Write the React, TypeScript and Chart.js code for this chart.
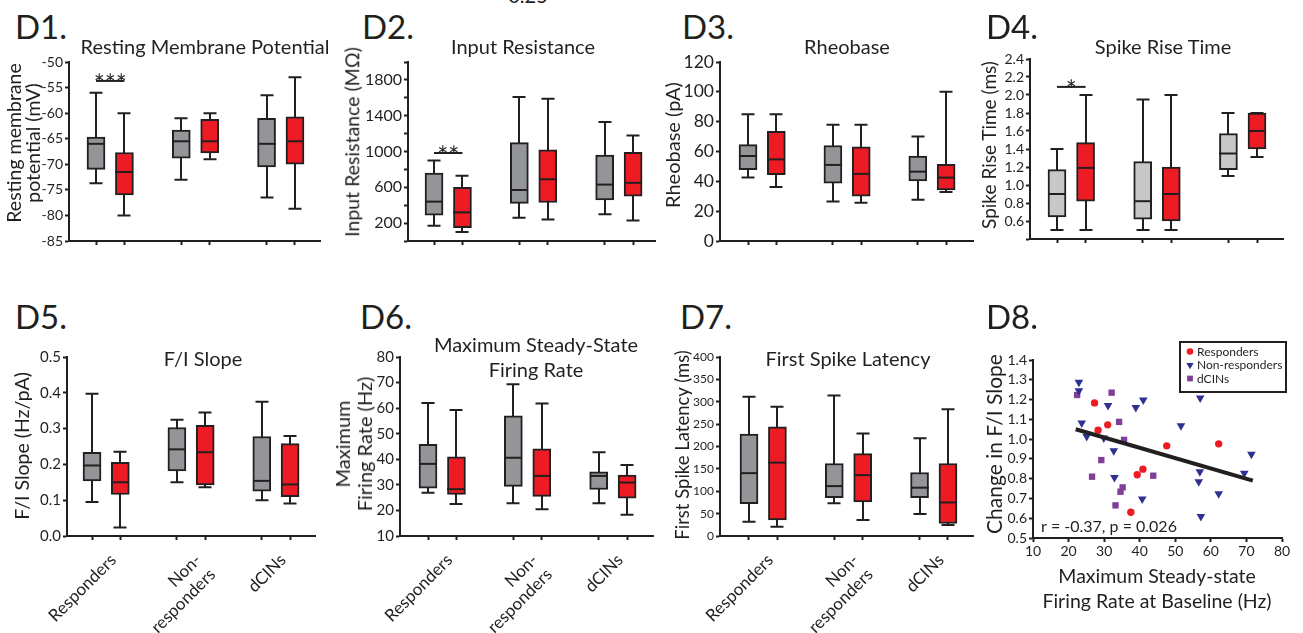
import React, { useEffect, useRef } from 'react';
import { Chart, registerables } from 'chart.js';

Chart.register(...registerables);

const FONT = 'Lato, "Open Sans", "DejaVu Sans", sans-serif';
const INK = '#231f20';
const RED = '#ed1c24';
const GRAY = '#939598';
const LIGHT_GRAY = '#c7c8ca';
const BLUE = '#2e3192';
const PURPLE = '#7f3f98';

Chart.defaults.font.family = FONT;
Chart.defaults.color = INK;

// ---------------- data ----------------
// box x positions (baseline = grey, post = red)
const baselinePos = [1, 4, 7];
const afterPos = [2, 5, 8];
const groupLabels: (string | string[])[] = ['Responders', ['Non-', 'responders'], 'dCINs'];

// each row: [min, q1, median, q3, max] for Responders, Non-responders, dCINs
const rmpBaseline = [[-73.7, -71, -66, -64.7, -56], [-73, -68.8, -65.5, -63.3, -61], [-76.5, -70.5, -66, -61, -56.5]];
const rmpAfter = [[-80, -76, -71.5, -67.7, -60], [-69, -67.8, -65.5, -61.2, -60], [-78.7, -70, -65.5, -60.7, -53]];
const irBaseline = [[170, 290, 440, 760, 900], [260, 420, 570, 1100, 1610], [300, 460, 630, 960, 1330]];
const irAfter = [[100, 150, 320, 600, 730], [240, 430, 690, 1020, 1590], [230, 500, 650, 990, 1180]];
const rheoBaseline = [[42.5, 47.8, 57, 64.6, 85], [26.4, 38.7, 51, 64, 78], [27.7, 40.2, 46.5, 57, 70]];
const rheoAfter = [[36.2, 44.5, 54.7, 73.5, 85], [25.7, 30, 45, 63.2, 78], [32.8, 34.2, 42.5, 51.4, 100]];
const riseBaseline = [[0.5, 0.645, 0.9, 1.17, 1.4], [0.5, 0.62, 0.82, 1.26, 1.95], [1.1, 1.17, 1.35, 1.57, 1.8]];
const riseAfter = [[0.5, 0.82, 1.19, 1.47, 2.0], [0.5, 0.6, 0.9, 1.2, 2.0], [1.31, 1.4, 1.6, 1.8, 1.8]];
const fiBaseline = [[0.095, 0.154, 0.197, 0.234, 0.397], [0.15, 0.182, 0.242, 0.303, 0.325], [0.1, 0.125, 0.154, 0.278, 0.375]];
const fiAfter = [[0.024, 0.116, 0.15, 0.206, 0.235], [0.136, 0.143, 0.234, 0.309, 0.345], [0.091, 0.11, 0.144, 0.258, 0.279]];
const maxfrBaseline = [[26.9, 28.7, 38.2, 45.8, 62], [22.8, 29.4, 40.6, 57, 69.3], [22.8, 28.2, 33.5, 35.1, 42.8]];
const maxfrAfter = [[22.5, 26.3, 28.3, 41, 59.3], [20.5, 25.5, 33.5, 44.1, 61.8], [18.3, 24.8, 30.9, 33.8, 37.8]];
const latBaseline = [[32, 72, 140.5, 227.5, 311], [73, 85.5, 111.5, 162, 314], [49, 85.5, 108, 142, 218.6]];
const latAfter = [[20.8, 35.7, 164, 244, 289], [35.7, 76, 136, 184, 229], [24.5, 28, 75, 162, 283]];

// significance bars
const rmpSig = { from: 1, to: 2, y: -53.7, mark: '***' };
const irSig = { from: 1, to: 2, y: 983, mark: '**' };
const riseSig = { from: 1, to: 2, y: 2.09, mark: '*' };

// D8 scatter
const respX = [27.3, 28.3, 31.0, 47.6, 62.2, 39.3, 40.9, 37.5];
const respY = [1.183, 1.045, 1.072, 0.966, 0.976, 0.82, 0.848, 0.63];
const nonX = [22.9, 22.9, 23.7, 25.1, 29.9, 31.1, 32.7, 32.9, 38.9, 41.0, 40.7, 51.6, 57.0, 56.9, 56.6, 57.2, 62.2, 69.4, 71.4];
const nonY = [1.287, 1.245, 1.082, 1.013, 1.006, 1.17, 0.941, 0.806, 1.16, 1.198, 0.697, 1.067, 1.208, 0.835, 0.784, 0.609, 0.724, 0.828, 0.924];
const dcinX = [22.4, 32.1, 34.2, 35.6, 29.2, 26.6, 34.6, 35.2, 33.2, 43.8];
const dcinY = [1.223, 1.235, 1.087, 0.996, 0.894, 0.81, 0.734, 0.756, 0.665, 0.815];
const fitX = [22, 71.8];
const fitY = [1.05, 0.79];
const corrNote = 'r = -0.37, p = 0.026';

// ---------------- plugins ----------------
const BOX_W = 18;
const CAP_W = 13;

const boxPlotPlugin = {
  id: 'boxPlot',
  beforeDatasetsDraw(chart: any) {
    const { ctx } = chart;
    const xs = chart.scales.x, ys = chart.scales.y;
    ctx.save();
    ctx.strokeStyle = INK;
    ctx.lineWidth = 2;
    chart.data.datasets.forEach((ds: any) => {
      ds.stats.forEach((s: number[], i: number) => {
        const px = Math.round(xs.getPixelForValue(ds.positions[i]));
        const y0 = ys.getPixelForValue(s[0]);
        const y4 = ys.getPixelForValue(s[4]);
        ctx.beginPath();
        ctx.moveTo(px, y0);
        ctx.lineTo(px, y4);
        ctx.moveTo(px - CAP_W / 2, y0);
        ctx.lineTo(px + CAP_W / 2, y0);
        ctx.moveTo(px - CAP_W / 2, y4);
        ctx.lineTo(px + CAP_W / 2, y4);
        ctx.stroke();
      });
    });
    ctx.restore();
  },
  afterDatasetsDraw(chart: any, _args: any, opts: any) {
    const { ctx } = chart;
    const xs = chart.scales.x, ys = chart.scales.y;
    ctx.save();
    ctx.strokeStyle = INK;
    ctx.lineWidth = 2;
    chart.data.datasets.forEach((ds: any) => {
      ds.stats.forEach((s: number[], i: number) => {
        const px = Math.round(xs.getPixelForValue(ds.positions[i]));
        const ym = ys.getPixelForValue(s[2]);
        ctx.beginPath();
        ctx.moveTo(px - BOX_W / 2, ym);
        ctx.lineTo(px + BOX_W / 2, ym);
        ctx.stroke();
      });
    });
    const sig = opts && opts.sig;
    if (sig) {
      const x1 = xs.getPixelForValue(sig.from);
      const x2 = xs.getPixelForValue(sig.to);
      const yy = ys.getPixelForValue(sig.y);
      ctx.lineWidth = 2;
      ctx.beginPath();
      ctx.moveTo(x1, yy);
      ctx.lineTo(x2, yy);
      ctx.stroke();
      ctx.fillStyle = INK;
      ctx.font = `26px ${FONT}`;
      ctx.textAlign = 'center';
      ctx.textBaseline = 'alphabetic';
      ctx.fillText(sig.mark, (x1 + x2) / 2, yy + 13);
    }
    ctx.restore();
  },
};

function drawMarker(ctx: CanvasRenderingContext2D, style: string, x: number, y: number, r: number, color: string) {
  ctx.fillStyle = color;
  ctx.beginPath();
  if (style === 'circle') {
    ctx.arc(x, y, r, 0, Math.PI * 2);
  } else if (style === 'triangle') {
    ctx.moveTo(x - r * 0.87, y - r * 0.5);
    ctx.lineTo(x + r * 0.87, y - r * 0.5);
    ctx.lineTo(x, y + r);
    ctx.closePath();
  } else {
    const h = r * 0.72;
    ctx.rect(x - h, y - h, 2 * h, 2 * h);
  }
  ctx.fill();
}

const scatterExtrasPlugin = {
  id: 'scatterExtras',
  afterDraw(chart: any, _args: any, opts: any) {
    const { ctx, chartArea } = chart;
    ctx.save();
    ctx.fillStyle = INK;
    ctx.font = `16px ${FONT}`;
    ctx.textAlign = 'left';
    ctx.textBaseline = 'alphabetic';
    ctx.fillText(opts.note, chartArea.left + 8, chartArea.bottom - 6);
    // legend
    const bx = chartArea.right - 102;
    const by = chartArea.top - 18;
    ctx.strokeStyle = INK;
    ctx.lineWidth = 2;
    ctx.strokeRect(bx, by, 106, 50);
    const items = chart.data.datasets.filter((d: any) => d.inLegend);
    ctx.font = `12px ${FONT}`;
    ctx.textBaseline = 'middle';
    items.forEach((d: any, i: number) => {
      const cy = by + 9.5 + i * 13.5;
      drawMarker(ctx, d.pointStyle, bx + 10, cy, d.legendR, d.backgroundColor);
      ctx.fillStyle = INK;
      ctx.fillText(d.label, bx + 17, cy + 0.5);
    });
    ctx.restore();
  },
};

// ---------------- box panels ----------------
interface BoxSpec {
  area: [number, number, number, number];
  xRange: [number, number];
  yMin: number;
  yMax: number;
  yStep: number;
  tickFont: number;
  fmt: (v: number) => string;
  base: number[][];
  after: number[][];
  baseColor: string;
  bottomRow: boolean;
  sig?: { from: number; to: number; y: number; mark: string };
}

const boxSpecs: BoxSpec[] = [
  { area: [69, 62, 320, 241], xRange: [0.05, 8.88], yMin: -85, yMax: -50, yStep: 5, tickFont: 14, fmt: (v) => String(v), base: rmpBaseline, after: rmpAfter, baseColor: GRAY, bottomRow: false, sig: rmpSig },
  { area: [408, 62, 655, 241], xRange: [0.085, 8.77], yMin: 0, yMax: 2000, yStep: 200, tickFont: 16, fmt: (v) => (Math.round(v) % 400 === 200 ? String(v) : ''), base: irBaseline, after: irAfter, baseColor: GRAY, bottomRow: false, sig: irSig },
  { area: [720, 62, 973, 241], xRange: [0.01, 8.95], yMin: 0, yMax: 120, yStep: 20, tickFont: 17.5, fmt: (v) => String(v), base: rheoBaseline, after: rheoAfter, baseColor: GRAY, bottomRow: false },
  { area: [1030, 59, 1283, 239], xRange: [0.055, 8.91], yMin: 0.4, yMax: 2.4, yStep: 0.2, tickFont: 14, fmt: (v) => (v < 0.5 ? '' : v.toFixed(1)), base: riseBaseline, after: riseAfter, baseColor: LIGHT_GRAY, bottomRow: false, sig: riseSig },
  { area: [67, 357, 315, 536], xRange: [0.116, 8.88], yMin: 0, yMax: 0.5, yStep: 0.1, tickFont: 15, fmt: (v) => v.toFixed(1), base: fiBaseline, after: fiAfter, baseColor: GRAY, bottomRow: true },
  { area: [400, 357, 653, 536], xRange: [0.015, 8.91], yMin: 10, yMax: 80, yStep: 10, tickFont: 15, fmt: (v) => String(v), base: maxfrBaseline, after: maxfrAfter, baseColor: GRAY, bottomRow: true },
  { area: [720, 357, 973, 536], xRange: [-0.02, 8.88], yMin: 0, yMax: 400, yStep: 50, tickFont: 12, fmt: (v) => String(v), base: latBaseline, after: latAfter, baseColor: GRAY, bottomRow: true },
];

function BoxChart({ spec }: { spec: BoxSpec }) {
  const ref = useRef<HTMLCanvasElement>(null);
  const [l, t, r, b] = spec.area;
  const yw = 62, pt = 14, pr = 12;
  const xh = spec.bottomRow ? 633 - b : 14;
  const left = l - yw, top = t - pt;
  const width = r + pr - left, height = b + xh - top;
  useEffect(() => {
    const mk = (stats: number[][], pos: number[], color: string, label: string) => ({
      label,
      data: stats.map((s, i) => ({ x: pos[i], y: [s[1], s[3]] })),
      stats,
      positions: pos,
      backgroundColor: color,
      borderColor: INK,
      borderWidth: 2,
      borderSkipped: false,
      maxBarThickness: BOX_W,
      grouped: false,
      barPercentage: 1,
      categoryPercentage: 1,
    });
    const allPos = [...baselinePos, ...afterPos].sort((a, c) => a - c);
    const chart = new Chart(ref.current as HTMLCanvasElement, {
      type: 'bar',
      data: { datasets: [mk(spec.base, baselinePos, spec.baseColor, 'Baseline'), mk(spec.after, afterPos, RED, 'Post')] as any },
      options: {
        animation: false,
        responsive: false,
        maintainAspectRatio: false,
        layout: { padding: { top: pt, right: pr, left: 0, bottom: 0 } },
        plugins: { legend: { display: false }, tooltip: { enabled: false }, boxPlot: { sig: spec.sig } } as any,
        scales: {
          x: {
            type: 'linear',
            offset: false,
            min: spec.xRange[0],
            max: spec.xRange[1],
            afterBuildTicks: (s: any) => {
              s.ticks = allPos.map((v) => ({ value: v }));
            },
            afterFit: (s: any) => {
              s.height = xh;
            },
            grid: { offset: false, drawOnChartArea: false, drawTicks: true, tickLength: 4, tickWidth: 2, tickColor: INK },
            border: { display: true, color: INK, width: 2 },
            ticks: {
              display: spec.bottomRow,
              autoSkip: false,
              minRotation: 45,
              maxRotation: 45,
              padding: 10,
              labelOffset: -7,
              font: { size: 17 },
              color: INK,
              callback: (v: any) => {
                const i = afterPos.indexOf(v);
                return i >= 0 ? groupLabels[i] : '';
              },
            },
          },
          y: {
            min: spec.yMin,
            max: spec.yMax,
            afterFit: (s: any) => {
              s.width = yw;
            },
            grid: { drawOnChartArea: false, drawTicks: true, tickLength: 4, tickWidth: 2, tickColor: INK },
            border: { display: true, color: INK, width: 2 },
            ticks: { autoSkip: false, stepSize: spec.yStep, font: { size: spec.tickFont }, color: INK, padding: 2, callback: (v: any) => spec.fmt(Number(v)) },
          },
        } as any,
      },
      plugins: [boxPlotPlugin],
    });
    return () => chart.destroy();
  }, [spec]);
  return <canvas ref={ref} width={width} height={height} style={{ position: 'absolute', left, top, width, height }} />;
}

function ScatterChart() {
  const ref = useRef<HTMLCanvasElement>(null);
  const [l, t, r, b] = [1033, 360, 1282, 538];
  const yw = 50, pt = 25, pr = 10, xh = 26;
  const left = l - yw, top = t - pt;
  const width = r + pr - left, height = b + xh - top;
  useEffect(() => {
    const pts = (xs: number[], ys: number[]) => xs.map((x, i) => ({ x, y: ys[i] }));
    const chart = new Chart(ref.current as HTMLCanvasElement, {
      type: 'scatter',
      data: {
        datasets: [
          { label: 'Linear fit', data: pts(fitX, fitY), showLine: true, borderColor: INK, borderWidth: 4, pointRadius: 0, order: 0 },
          { label: 'Responders', data: pts(respX, respY), pointStyle: 'circle', pointRadius: 3.7, backgroundColor: RED, borderWidth: 0, order: 1, inLegend: true, legendR: 3.3 },
          { label: 'Non-responders', data: pts(nonX, nonY), pointStyle: 'triangle', rotation: 180, pointRadius: 5, backgroundColor: BLUE, borderWidth: 0, order: 1, inLegend: true, legendR: 4.2 },
          { label: 'dCINs', data: pts(dcinX, dcinY), pointStyle: 'rect', pointRadius: 4.5, backgroundColor: PURPLE, borderWidth: 0, order: 1, inLegend: true, legendR: 4 },
        ] as any,
      },
      options: {
        animation: false,
        responsive: false,
        maintainAspectRatio: false,
        layout: { padding: { top: pt, right: pr, left: 0, bottom: 0 } },
        plugins: { legend: { display: false }, tooltip: { enabled: false }, scatterExtras: { note: corrNote } } as any,
        scales: {
          x: {
            type: 'linear',
            min: 10,
            max: 80,
            afterFit: (s: any) => {
              s.height = xh;
            },
            grid: { drawOnChartArea: false, drawTicks: true, tickLength: 4, tickWidth: 2, tickColor: INK },
            border: { display: true, color: INK, width: 2 },
            ticks: { stepSize: 10, font: { size: 14 }, color: INK, padding: 1, autoSkip: false, maxRotation: 0 },
          },
          y: {
            min: 0.5,
            max: 1.4,
            afterFit: (s: any) => {
              s.width = yw;
            },
            grid: { drawOnChartArea: false, drawTicks: true, tickLength: 4, tickWidth: 2, tickColor: INK },
            border: { display: true, color: INK, width: 2 },
            ticks: { autoSkip: false, stepSize: 0.1, font: { size: 14 }, color: INK, padding: 2, callback: (v: any) => Number(v).toFixed(1) },
          },
        } as any,
      },
      plugins: [scatterExtrasPlugin],
    });
    return () => chart.destroy();
  }, []);
  return <canvas ref={ref} width={width} height={height} style={{ position: 'absolute', left, top, width, height }} />;
}

// ---------------- text overlay ----------------
interface TextSpec {
  text: string;
  x: number;
  y: number;
  size: number;
  rot?: boolean;
  lh?: number;
  anchorLeft?: boolean;
}

const texts: TextSpec[] = [
  { text: '0.25', x: 528, y: -5, size: 20 },
  { text: 'D1.', x: 15, y: 25.5, size: 33, anchorLeft: true },
  { text: 'D2.', x: 362, y: 25.5, size: 33, anchorLeft: true },
  { text: 'D3.', x: 682, y: 25.5, size: 33, anchorLeft: true },
  { text: 'D4.', x: 986, y: 25.5, size: 33, anchorLeft: true },
  { text: 'D5.', x: 15, y: 315.5, size: 33, anchorLeft: true },
  { text: 'D6.', x: 360, y: 315.5, size: 33, anchorLeft: true },
  { text: 'D7.', x: 680, y: 315.5, size: 33, anchorLeft: true },
  { text: 'D8.', x: 986, y: 315.5, size: 33, anchorLeft: true },
  { text: 'Resting Membrane Potential', x: 205, y: 45.5, size: 20 },
  { text: 'Input Resistance', x: 523, y: 45.5, size: 20 },
  { text: 'Rheobase', x: 847, y: 45.5, size: 20 },
  { text: 'Spike Rise Time', x: 1163, y: 45.5, size: 20 },
  { text: 'F/I Slope', x: 203, y: 358, size: 20 },
  { text: 'Maximum Steady-State\nFiring Rate', x: 536, y: 356.5, size: 20, lh: 25 },
  { text: 'First Spike Latency', x: 848, y: 358, size: 20 },
  { text: 'Resting membrane\npotential (mV)', x: 23, y: 143, size: 19.5, rot: true, lh: 18.5 },
  { text: 'Input Resistance (M\u03A9)', x: 352, y: 142, size: 19.5, rot: true },
  { text: 'Rheobase (pA)', x: 672, y: 145, size: 20, rot: true },
  { text: 'Spike Rise Time (ms)', x: 988, y: 145, size: 19, rot: true },
  { text: 'F/I Slope (Hz/pA)', x: 22, y: 446, size: 19.5, rot: true },
  { text: 'Maximum\nFiring Rate (Hz)', x: 353, y: 444, size: 20, rot: true, lh: 22 },
  { text: 'First Spike Latency (ms)', x: 682, y: 445, size: 18.5, rot: true },
  { text: 'Change in F/I Slope', x: 993, y: 444, size: 21, rot: true },
  { text: 'Maximum Steady-state\nFiring Rate at Baseline (Hz)', x: 1157, y: 587.5, size: 19.5, lh: 25 },
];

function TextItem({ s }: { s: TextSpec }) {
  const transform = s.anchorLeft
    ? 'translate(0,-50%)'
    : s.rot
    ? 'translate(-50%,-50%) rotate(-90deg)'
    : 'translate(-50%,-50%)';
  return (
    <div
      style={{
        position: 'absolute',
        left: s.x,
        top: s.y,
        transform,
        fontFamily: FONT,
        fontSize: s.size,
        lineHeight: s.lh ? `${s.lh}px` : 1,
        color: INK,
        whiteSpace: 'pre',
        textAlign: 'center',
      }}
    >
      {s.text}
    </div>
  );
}

export default function App() {
  return (
    <div style={{ position: 'absolute', left: 0, top: 0, width: 1303, height: 633, overflow: 'hidden', background: '#fff' }}>
      {boxSpecs.map((s, i) => (
        <BoxChart key={i} spec={s} />
      ))}
      <ScatterChart />
      {texts.map((s, i) => (
        <TextItem key={i} s={s} />
      ))}
    </div>
  );
}
